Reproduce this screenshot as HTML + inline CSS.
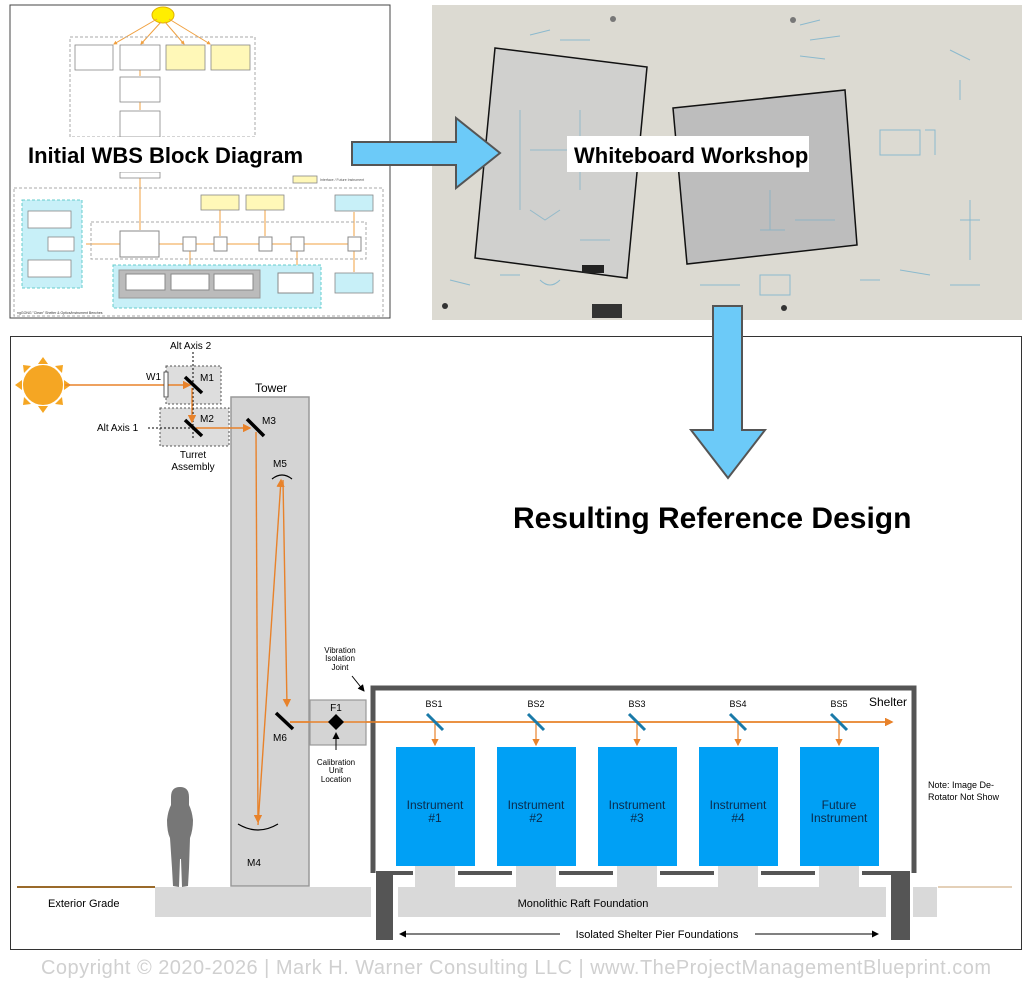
<!DOCTYPE html>
<html><head><meta charset="utf-8"><style>
html,body{margin:0;padding:0;background:#fff;}
svg{display:block;font-family:"Liberation Sans",Arial,sans-serif;}
</style></head><body>
<svg width="1032" height="984" viewBox="0 0 1032 984" xmlns="http://www.w3.org/2000/svg">
<defs>
<marker id="oa" markerWidth="6" markerHeight="6" refX="5" refY="3" orient="auto"><path d="M0,0 L6,3 L0,6 z" fill="#e8822a"/></marker>
<marker id="ka" markerWidth="7" markerHeight="7" refX="6" refY="3.5" orient="auto"><path d="M0,0 L7,3.5 L0,7 z" fill="#000"/></marker>
<marker id="sa" markerWidth="4" markerHeight="4" refX="3" refY="2" orient="auto"><path d="M0,0 L4,2 L0,4 z" fill="#f0a040"/></marker>
</defs>

<!-- WBS image -->
<rect x="10" y="5" width="380" height="313" fill="#fff" stroke="#444" stroke-width="1"/>
<ellipse cx="163" cy="15" rx="11" ry="8" fill="#ffee00" stroke="#e0b000"/>
<g stroke="#f0a040" stroke-width="1" fill="none">
<line x1="157" y1="19" x2="114" y2="44" marker-end="url(#sa)"/><line x1="161" y1="22" x2="141" y2="44" marker-end="url(#sa)"/>
<line x1="165" y1="22" x2="184" y2="44" marker-end="url(#sa)"/><line x1="169" y1="19" x2="210" y2="44" marker-end="url(#sa)"/>
<line x1="140" y1="70" x2="140" y2="76"/><line x1="140" y1="102" x2="140" y2="110"/>
<line x1="140" y1="178" x2="140" y2="230"/>
<line x1="86" y1="244" x2="120" y2="244"/><line x1="159" y1="244" x2="350" y2="244"/>
<line x1="190" y1="251" x2="190" y2="268"/><line x1="220" y1="236" x2="220" y2="210"/><line x1="265" y1="236" x2="265" y2="210"/>
<line x1="297" y1="251" x2="297" y2="271"/><line x1="354" y1="236" x2="354" y2="212"/><line x1="354" y1="251" x2="354" y2="272"/>
</g>
<rect x="70" y="37" width="185" height="100" fill="none" stroke="#aaa" stroke-dasharray="3,2"/>
<g stroke="#888" stroke-width="0.8">
<rect x="75" y="45" width="38" height="25" fill="#fff"/><rect x="120" y="45" width="40" height="25" fill="#fff"/>
<rect x="166" y="45" width="39" height="25" fill="#fff8b8"/><rect x="211" y="45" width="39" height="25" fill="#fff8b8"/>
<rect x="120" y="77" width="40" height="25" fill="#fff"/><rect x="120" y="111" width="40" height="26" fill="#fff"/>
<rect x="120" y="172" width="40" height="6" fill="#fff"/>
<rect x="293" y="176" width="24" height="7" fill="#fff8b8"/>
</g>
<text x="320" y="181" font-size="3.5" fill="#555">Interface / Future Instrument</text>
<rect x="14" y="188" width="369" height="128" fill="none" stroke="#aaa" stroke-dasharray="3,2"/>
<rect x="22" y="200" width="60" height="88" fill="#c8f0f8" stroke="#6cc" stroke-dasharray="3,2"/>
<g stroke="#888" stroke-width="0.8" fill="#fff">
<rect x="28" y="211" width="43" height="17"/><rect x="48" y="237" width="26" height="14"/><rect x="28" y="260" width="43" height="17"/>
</g>
<rect x="91" y="222" width="275" height="37" fill="none" stroke="#aaa" stroke-dasharray="3,2"/>
<rect x="120" y="231" width="39" height="26" fill="#fff" stroke="#888"/>
<g stroke="#888" fill="#fff"><rect x="183" y="237" width="13" height="14"/><rect x="214" y="237" width="13" height="14"/><rect x="259" y="237" width="13" height="14"/><rect x="291" y="237" width="13" height="14"/><rect x="348" y="237" width="13" height="14"/></g>
<g stroke="#888" stroke-width="0.8"><rect x="201" y="195" width="38" height="15" fill="#fff8b8"/><rect x="246" y="195" width="38" height="15" fill="#fff8b8"/><rect x="335" y="195" width="38" height="16" fill="#c8f0f8"/><rect x="335" y="273" width="38" height="20" fill="#c8f0f8"/></g>
<rect x="113" y="265" width="208" height="43" fill="#c8f0f8" stroke="#6cc" stroke-dasharray="3,2"/>
<rect x="119" y="270" width="141" height="28" fill="#bbb" stroke="#999"/>
<g stroke="#888" fill="#fff"><rect x="126" y="274" width="39" height="16"/><rect x="171" y="274" width="38" height="16"/><rect x="214" y="274" width="39" height="16"/><rect x="278" y="273" width="35" height="20"/></g>
<text x="17" y="314" font-size="3.5" fill="#333">ngGONG "Clean" Shelter &amp; Optics/Instrument Benches</text>
<rect x="20" y="137" width="322" height="35" fill="#fff"/>
<text x="28" y="163" font-size="22" font-weight="bold" fill="#000">Initial WBS Block Diagram</text>

<!-- Whiteboard photo -->
<rect x="432" y="5" width="590" height="315" fill="#dcdad2"/>
<g stroke="#6aaccc" stroke-width="1" fill="none" opacity="0.7">
<path d="M800 25 l20 -5 m-10 20 l30 -4 m-40 20 l25 3"/><path d="M880 130 h40 v25 h-40z M925 130 h10 v25"/>
<path d="M450 280 l20 5 m30 -10 h20 m20 5 q10 10 20 0"/><path d="M700 285 h40 m20 -10 h30 v20 h-30z"/>
<path d="M860 280 h20 m20 -10 l30 5 m20 10 h30"/><path d="M970 200 v60 m-10 -40 h20"/>
<path d="M530 35 l20 -5 m10 10 h30"/><path d="M950 50 l20 10 m-10 20 v20"/>
<path d="M520 120 v60 m10 -30 h40 m-20 -20 v80 m-30 40 l20 10 m20 -20 h30"/>
<path d="M740 150 h30 m-15 0 v60 m-20 20 h40"/>
</g>
<circle cx="613" cy="19" r="3" fill="#777"/><circle cx="793" cy="20" r="3" fill="#777"/><circle cx="445" cy="306" r="3" fill="#333"/><circle cx="784" cy="308" r="3" fill="#333"/>
<rect x="592" y="304" width="30" height="14" fill="#333"/>
<polygon points="495,48 647,67 627,278 475,258" fill="#d0d0ce" stroke="#111" stroke-width="1.5"/>
<polygon points="673,108 845,90 857,245 687,264" fill="#bdbdbd" stroke="#111" stroke-width="1.5"/>
<g stroke="#7ab0c8" stroke-width="1" fill="none" opacity="0.7">
<path d="M520 110 v100 m10 -60 h40 m10 -40 v80 m-50 20 l15 10 l15 -10 m20 30 h30"/>
<path d="M770 190 v40 m-10 0 h25 m10 -10 h40"/>
</g>
<rect x="582" y="265" width="22" height="8" fill="#222"/>
<rect x="567" y="136" width="242" height="36" fill="#fff"/>
<text x="574" y="163" font-size="22" font-weight="bold" fill="#000">Whiteboard Workshop</text>

<!-- right arrow -->
<polygon points="352,142 456,142 456,118 500,153 456,188 456,165 352,165" fill="#6ccaf8" stroke="#555" stroke-width="2"/>

<!-- bottom frame -->
<rect x="10.5" y="336.5" width="1011" height="613" fill="none" stroke="#333"/>
<polygon points="713,306 742,306 742,430 765,430 728,478 691,430 713,430" fill="#6ccaf8" stroke="#555" stroke-width="2"/>
<text x="513" y="528" font-size="30" font-weight="bold" fill="#000">Resulting Reference Design</text>

<!-- sun -->
<g fill="#f5a623">
<circle cx="43" cy="385" r="20"/>
<polygon points="43,357 38,364 48,364"/><polygon points="43,413 38,406 48,406"/>
<polygon points="15,385 22,380 22,390"/><polygon points="71,385 64,380 64,390"/>
<polygon points="23,365 24,373 31,366"/><polygon points="63,365 62,373 55,366"/>
<polygon points="23,405 24,397 31,404"/><polygon points="63,405 62,397 55,404"/>
</g>
<!-- turret -->
<rect x="166" y="366" width="55" height="38" fill="#ddd" stroke="#555" stroke-dasharray="2,2"/>
<rect x="160" y="408" width="69" height="38" fill="#ddd" stroke="#555" stroke-dasharray="2,2"/>
<line x1="193" y1="352" x2="193" y2="440" stroke="#000" stroke-dasharray="2,2"/>
<line x1="148" y1="428" x2="192" y2="428" stroke="#000" stroke-dasharray="2,2"/>
<text x="170" y="349" font-size="10">Alt Axis 2</text>
<text x="97" y="431" font-size="10">Alt Axis 1</text>
<text x="193" y="458" font-size="10" text-anchor="middle">Turret</text>
<text x="193" y="470" font-size="10" text-anchor="middle">Assembly</text>
<text x="146" y="380" font-size="10">W1</text>
<text x="200" y="381" font-size="10">M1</text>
<text x="200" y="422" font-size="10">M2</text>
<!-- tower -->
<rect x="231" y="397" width="78" height="489" fill="#d4d4d4" stroke="#999" stroke-width="1.5"/>
<text x="255" y="392" font-size="12">Tower</text>
<text x="262" y="424" font-size="10">M3</text>
<text x="273" y="467" font-size="10">M5</text>
<text x="247" y="866" font-size="10">M4</text>
<text x="273" y="741" font-size="10">M6</text>
<!-- beams -->
<g stroke="#e8822a" stroke-width="1.4" fill="none">
<line x1="65" y1="385" x2="190" y2="385" marker-end="url(#oa)"/>
<line x1="192" y1="388" x2="192" y2="422" marker-end="url(#oa)"/>
<line x1="196" y1="428" x2="250" y2="428" marker-end="url(#oa)"/>
<line x1="256" y1="432" x2="258" y2="822" marker-end="url(#oa)"/>
<line x1="258" y1="825" x2="281" y2="480" marker-end="url(#oa)"/>
<line x1="283" y1="480" x2="287" y2="706" marker-end="url(#oa)"/>
<line x1="290" y1="722" x2="892" y2="722" marker-end="url(#oa)"/>
</g>
<rect x="164" y="372" width="4" height="25" fill="#fff" stroke="#333" stroke-width="0.8"/>
<g stroke="#000" stroke-width="3.5">
<line x1="185" y1="377" x2="202" y2="393"/><line x1="185" y1="420" x2="202" y2="436"/>
<line x1="247" y1="419" x2="264" y2="436"/><line x1="276" y1="713" x2="293" y2="729"/>
</g>
<path d="M272 479 Q282 471 292 479" stroke="#000" fill="none" stroke-width="1.2"/>
<path d="M238 824 Q258 836 278 824" stroke="#000" fill="none" stroke-width="1.2"/>
<!-- F1 -->
<rect x="310" y="700" width="56" height="45" fill="#d4d4d4" stroke="#999" stroke-width="1.2"/>
<line x1="290" y1="722" x2="370" y2="722" stroke="#e8822a" stroke-width="1.4"/>
<polygon points="336,714 344,722 336,730 328,722" fill="#000"/>
<text x="336" y="711" font-size="10" text-anchor="middle">F1</text>
<line x1="336" y1="750" x2="336" y2="733" stroke="#000" marker-end="url(#ka)"/>
<text x="336" y="765" font-size="8" text-anchor="middle">Calibration</text>
<text x="336" y="773" font-size="8" text-anchor="middle">Unit</text>
<text x="336" y="782" font-size="8" text-anchor="middle">Location</text>
<text x="340" y="653" font-size="8" text-anchor="middle">Vibration</text>
<text x="340" y="661" font-size="8" text-anchor="middle">Isolation</text>
<text x="340" y="670" font-size="8" text-anchor="middle">Joint</text>
<line x1="352" y1="676" x2="364" y2="691" stroke="#000" marker-end="url(#ka)"/>
<!-- ground -->
<rect x="155" y="887" width="216" height="30" fill="#d9d9d9"/>
<rect x="398" y="887" width="488" height="30" fill="#d9d9d9"/>
<rect x="913" y="887" width="24" height="30" fill="#d9d9d9"/>
<line x1="17" y1="887" x2="155" y2="887" stroke="#9a6a2a" stroke-width="2"/>
<line x1="938" y1="887" x2="1012" y2="887" stroke="#c8a070" stroke-width="1"/>
<text x="48" y="907" font-size="11">Exterior Grade</text>
<text x="583" y="907" font-size="11" text-anchor="middle">Monolithic Raft Foundation</text>
<!-- person -->
<path d="M180 787 q-9 0 -9 10 l0 8 q-3 6 -4 15 q0 12 3 18 l2 30 l1 18 l6 1 l1 -28 l1 0 l1 28 l6 -1 l1 -18 l1 -30 q3 -8 3 -18 q-1 -9 -4 -15 l0 -8 q0 -10 -9 -10z" fill="#777"/>
<!-- shelter -->
<path d="M373 873 V688 H914 V873" fill="none" stroke="#555" stroke-width="5"/>
<rect x="376" y="871" width="17" height="69" fill="#555"/>
<rect x="891" y="871" width="19" height="69" fill="#555"/>
<g fill="#555">
<rect x="393" y="871" width="20" height="4"/><rect x="458" y="871" width="54" height="4"/><rect x="559" y="871" width="54" height="4"/><rect x="660" y="871" width="54" height="4"/><rect x="761" y="871" width="54" height="4"/><rect x="862" y="871" width="29" height="4"/>
</g>
<g fill="#d9d9d9">
<rect x="415" y="866" width="40" height="21"/><rect x="516" y="866" width="40" height="21"/><rect x="617" y="866" width="40" height="21"/><rect x="718" y="866" width="40" height="21"/><rect x="819" y="866" width="40" height="21"/>
</g>
<text x="907" y="706" font-size="12" text-anchor="end">Shelter</text>
<line x1="370" y1="722" x2="892" y2="722" stroke="#e8822a" stroke-width="1.4" marker-end="url(#oa)"/>
<g font-size="9" text-anchor="middle">
<text x="434" y="707">BS1</text><text x="536" y="707">BS2</text><text x="637" y="707">BS3</text><text x="738" y="707">BS4</text><text x="839" y="707">BS5</text>
</g>
<g stroke="#e8822a" stroke-width="1.2">
<line x1="435" y1="724" x2="435" y2="745" marker-end="url(#oa)"/><line x1="536" y1="724" x2="536" y2="745" marker-end="url(#oa)"/><line x1="637" y1="724" x2="637" y2="745" marker-end="url(#oa)"/><line x1="738" y1="724" x2="738" y2="745" marker-end="url(#oa)"/><line x1="839" y1="724" x2="839" y2="745" marker-end="url(#oa)"/>
</g>
<g stroke="#1a7aa8" stroke-width="3">
<line x1="427" y1="714" x2="443" y2="730"/><line x1="528" y1="714" x2="544" y2="730"/><line x1="629" y1="714" x2="645" y2="730"/><line x1="730" y1="714" x2="746" y2="730"/><line x1="831" y1="714" x2="847" y2="730"/>
</g>
<g fill="#00a0f5">
<rect x="396" y="747" width="79" height="119"/><rect x="497" y="747" width="79" height="119"/><rect x="598" y="747" width="79" height="119"/><rect x="699" y="747" width="79" height="119"/><rect x="800" y="747" width="79" height="119"/>
</g>
<g font-size="12" text-anchor="middle" fill="#0a2a4a">
<text x="435" y="809">Instrument</text><text x="435" y="822">#1</text>
<text x="536" y="809">Instrument</text><text x="536" y="822">#2</text>
<text x="637" y="809">Instrument</text><text x="637" y="822">#3</text>
<text x="738" y="809">Instrument</text><text x="738" y="822">#4</text>
<text x="839" y="809">Future</text><text x="839" y="822">Instrument</text>
</g>
<text x="928" y="788" font-size="9">Note: Image De-</text>
<text x="928" y="800" font-size="9">Rotator Not Show</text>
<line x1="560" y1="934" x2="400" y2="934" stroke="#000" marker-end="url(#ka)"/>
<line x1="755" y1="934" x2="878" y2="934" stroke="#000" marker-end="url(#ka)"/>
<text x="657" y="938" font-size="11" text-anchor="middle">Isolated Shelter Pier Foundations</text>
<text x="516" y="974" font-size="20" fill="#d0d0d0" text-anchor="middle" textLength="950">Copyright © 2020-2026 | Mark H. Warner Consulting LLC | www.TheProjectManagementBlueprint.com</text>
</svg>
</body></html>
